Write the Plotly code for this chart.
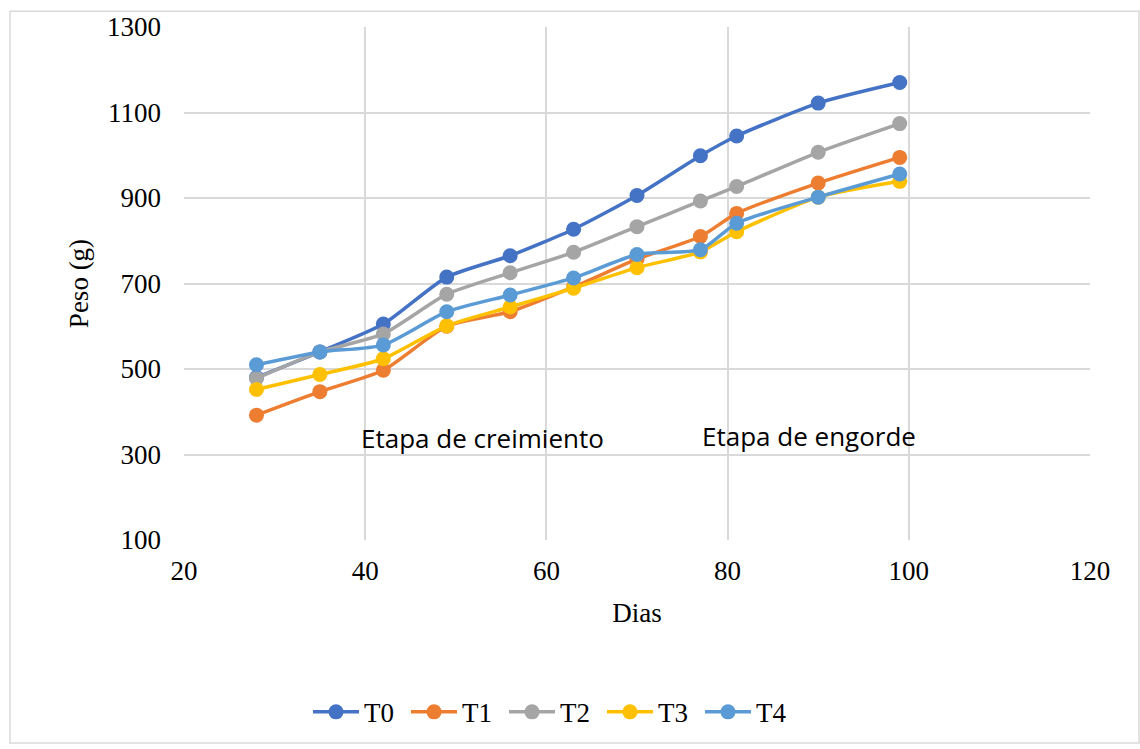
import plotly.graph_objects as go

# Sampling days and mean body weight (g) per treatment
dias = [28, 35, 42, 49, 56, 63, 70, 77, 81, 90, 99]
t0 = [480, 540, 605, 715, 765, 827, 906, 999, 1045, 1122, 1170]
t1 = [392, 447, 497, 600, 634, 692, 757, 810, 864, 935, 995]
t2 = [478, 540, 582, 675, 725, 773, 833, 893, 927, 1007, 1074]
t3 = [452, 487, 524, 601, 645, 689, 737, 774, 821, 902, 939]
t4 = [510, 540, 556, 634, 673, 713, 768, 779, 841, 902, 956]

series = [("T0", t0, "#4472C4"), ("T1", t1, "#ED7D31"), ("T2", t2, "#A5A5A5"),
          ("T3", t3, "#FFC000"), ("T4", t4, "#5B9BD5")]

serif = "Liberation Serif, Times New Roman, serif"
sans = "Open Sans, Liberation Sans, sans-serif"

fig = go.Figure()
for name, vals, color in series:
    fig.add_trace(go.Scatter(
        x=dias, y=vals, name=name, mode="lines+markers",
        line=dict(color=color, width=3.5, shape="spline", smoothing=0.6),
        marker=dict(color=color, size=15),
    ))

fig.add_annotation(x=52.95, y=338, text="Etapa de creimiento", showarrow=False,
                   font=dict(family=sans, size=26, color="#000000"))
fig.add_annotation(x=89.0, y=343, text="Etapa de engorde", showarrow=False,
                   font=dict(family=sans, size=26, color="#000000"))

# outer chart frame
fig.add_shape(type="rect", xref="paper", yref="paper",
              x0=(10 - 184) / 906, x1=(1139 - 184) / 906,
              y0=(543 - 748) / 518, y1=(543 - 9) / 518,
              line=dict(color="#D9D9D9", width=1.5), layer="below")

fig.update_layout(
    width=1140, height=749,
    margin=dict(l=184, r=50, t=25, b=206),
    paper_bgcolor="white", plot_bgcolor="white",
    font=dict(family=serif, size=27, color="#000000"),
    showlegend=True,
    legend=dict(orientation="h", x=(308 - 184) / 906, xanchor="left",
                y=(543 - 717) / 518, yanchor="middle",
                font=dict(family=serif, size=27), itemwidth=46,
                entrywidth=37, traceorder="normal"),
    xaxis=dict(range=[20, 120], dtick=20, tick0=20, showgrid=True, gridcolor="#D9D9D9",
               gridwidth=1.5, zeroline=False, showline=False, ticks="",
               ticklabelstandoff=12,
               title=dict(text="Dias", standoff=18, font=dict(family=serif, size=27))),
    yaxis=dict(range=[100, 1300], dtick=200, tick0=100, showgrid=True, gridcolor="#D9D9D9",
               gridwidth=1.5, zeroline=False, showline=False, ticks="",
               ticklabelstandoff=22,
               title=dict(text="Peso (g)", standoff=10, font=dict(family=serif, size=27))),
)

fig.write_html("out.html")
